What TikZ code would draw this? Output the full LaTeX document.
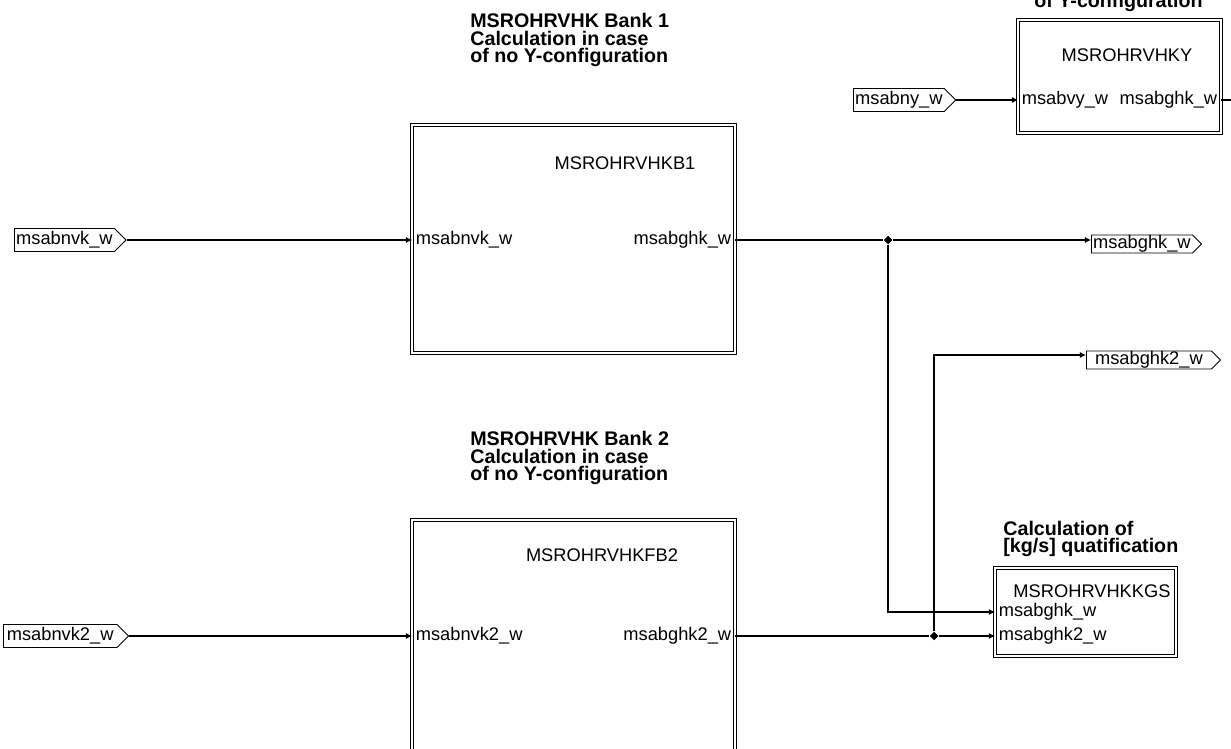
\documentclass[tikz,border=0pt]{standalone}
\usepackage{fontspec}
\setmainfont{Liberation Sans}
\usetikzlibrary{arrows.meta,shapes.geometric,shapes.symbols}

\begin{document}
\begin{tikzpicture}[
  x=0.02cm, y=-0.02cm,
  font=\fontsize{10.4}{12}\selectfont,
  block/.style={draw, double, double distance=0.8pt, line width=0.5pt, inner sep=0pt},
  sigtag/.style={signal, signal to=east, draw, line width=0.5pt, inner xsep=1pt,
                 inner ysep=0pt, minimum height=0.46cm, anchor=west},
  outtag/.style={sigtag, minimum height=0.36cm},
  portin/.style={anchor=west, inner sep=2pt},
  portout/.style={anchor=east, inner sep=2pt},
  heading/.style={font=\fontsize{11.2}{10}\selectfont\bfseries, align=left,
                  anchor=base west, inner sep=0pt},
  dot/.style={diamond, fill, inner sep=0pt, minimum size=5pt},
  sig/.style={-{Latex[length=3.5pt,width=3.5pt]}, line width=0.6pt}
]
\useasboundingbox (0,0) rectangle (1231,749);
\clip (0,0) rectangle (1231,749);

% Headings over the blocks (anchored at the baseline of the last line)
\node[heading] (h1) at (470,63)
  {MSROHRVHK Bank 1\\Calculation in case\\of no Y-configuration};
\node[heading] (h2) at (470,481)
  {MSROHRVHK Bank 2\\Calculation in case\\of no Y-configuration};
\node[heading] (hy) at (1034,8) {of Y-configuration};
\node[heading] (hkgs) at (1003,553) {Calculation of\\{[kg/s]} quatification};

% Blocks
\node[block, minimum width=6.46cm, minimum height=4.56cm] (b1) at (573.5,239) {};
\node[block, minimum width=6.46cm, minimum height=5.2cm] (b2) at (573.5,650) {};
\node[block, minimum width=4.06cm, minimum height=2.26cm] (by) at (1119.5,76.5) {};
\node[block, minimum width=3.62cm, minimum height=1.76cm] (kgs) at (1085.5,612) {};

\node (b1name) at (625,163) {MSROHRVHKB1};
\node (b2name) at (602,555) {MSROHRVHKFB2};
\node (byname) at (1127,55) {MSROHRVHKY};
\node (kgsname) at (1092,591) {MSROHRVHKKGS};

% Ports
\node[portin] (b1in) at (412,240) {msabnvk\_w};
\node[portout] (b1out) at (735,240) {msabghk\_w};
\node[portin] (b2in) at (412,636) {msabnvk2\_w};
\node[portout] (b2out) at (735,636) {msabghk2\_w};
\node[portin] (byin) at (1018,100) {msabvy\_w};
\node[portout] (byout) at (1221,100) {msabghk\_w};
\node[portin] (kgsin1) at (995,612) {msabghk\_w};
\node[portin] (kgsin2) at (995,636) {msabghk2\_w};

% Signal tags
\node[sigtag] (tnvk) at (14,240) {msabnvk\_w};
\node[sigtag, minimum width=2.5cm] (tnvk2) at (3,636) {msabnvk2\_w};
\node[sigtag] (tny) at (853,100) {msabny\_w};
\node[outtag] (tghk) at (1091,244) {msabghk\_w};
\node[outtag, minimum width=2.68cm] (tghk2) at (1086,360) {msabghk2\_w};

% Junctions
\node[dot] (j1) at (888,240) {};
\node[dot] (j2) at (934,636) {};
\coordinate (bystub) at (1231,100);

% Wiring
\draw[sig] (tnvk.east) -- (b1in.west);
\draw[sig] (tnvk2.east) -- (b2in.west);
\draw[sig] (tny.east) -- (byin.west);
\draw[line width=0.6pt] (byout.east) -- (bystub);
\draw[line width=0.6pt] (b1out.east) -- (j1);
\draw[sig] (j1) -- (j1 -| tghk.west);
\draw[sig] (j1) |- (kgsin1.west);
\draw[sig] (b2out.east) -- (j2) -- (kgsin2.west);
\draw[sig] (j2) |- ([yshift=0.1cm]tghk2.west);

\end{tikzpicture}
\end{document}
